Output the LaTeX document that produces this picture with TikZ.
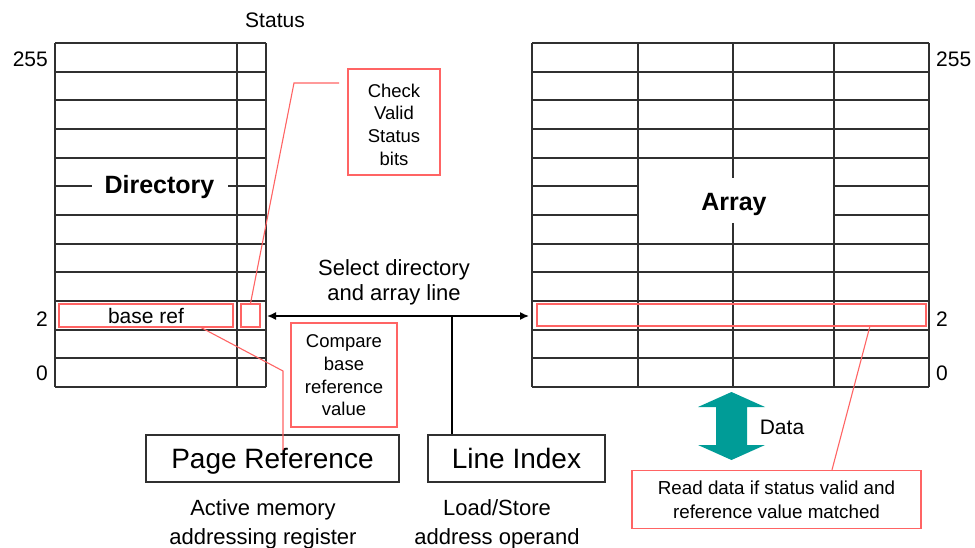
\documentclass[tikz,border=0pt]{standalone}
\usepackage{fontspec}
\setmainfont{Liberation Sans}
\usetikzlibrary{arrows.meta}
\definecolor{gridc}{HTML}{303030}
\definecolor{redc}{HTML}{FF6464}
\definecolor{tealc}{HTML}{009C97}
\tikzset{
  gridline/.style={draw=gridc, line width=1.8pt},
  redbox/.style={draw=redc, line width=1.3pt, inner sep=0pt, align=center},
  redline/.style={draw=redc, line width=1.1pt},
  blackbox/.style={draw=gridc, line width=1.6pt, inner sep=0pt, text height=20.2pt, text depth=0pt, font=\fontsize{28}{32}\selectfont},
  lbl/.style={inner sep=0pt, align=center, text=black},
  small/.style={lbl, font=\fontsize{21}{25}\selectfont},
  note/.style={lbl, font=\fontsize{18.5}{22.7}\selectfont},
  mid/.style={lbl, font=\fontsize{22}{29}\selectfont},
  bold/.style={lbl, font=\bfseries\fontsize{25}{30}\selectfont, text height=18pt, text depth=0pt},
  connector/.style={draw=black, line width=1.5pt}
}
\begin{document}
\begin{tikzpicture}[x=1pt,y=-1pt]
\useasboundingbox (0,0) rectangle (975,548);
% ---------- Directory grid ----------
\foreach \i in {0,1,2,3,4,6,7,8,9,10,11,12}{
  \draw[gridline] (55,43+\i*28.6667) -- (266,43+\i*28.6667);
}
\draw[gridline] (55,186.33) -- (266,186.33);
\draw[gridline] (55,43) -- (55,387);
\draw[gridline] (237,43) -- (237,387);
\draw[gridline] (266,43) -- (266,387);
\node[bold, fill=white, minimum width=136pt, minimum height=20pt] (dirlabel) at (159.5,185) {Directory};
% ---------- Array grid ----------
\foreach \i in {0,1,2,3,4,7,8,9,10,11,12}{
  \draw[gridline] (532,43+\i*28.6667) -- (929,43+\i*28.6667);
}
\foreach \i in {5,6}{
  \draw[gridline] (532,43+\i*28.6667) -- (638,43+\i*28.6667);
  \draw[gridline] (834,43+\i*28.6667) -- (929,43+\i*28.6667);
}
\foreach \x in {532,638,834,929}{
  \draw[gridline] (\x,43) -- (\x,387);
}
\draw[gridline] (733,43) -- (733,178);
\draw[gridline] (733,223) -- (733,387);
\node[bold] (arrlabel) at (734,202) {Array};
% ---------- labels ----------
\node[small] (status) at (275,20) {Status};
\node[small, anchor=east] (l255) at (48,59) {255};
\node[small] (l2) at (42,319) {2};
\node[small] (l0) at (42,373) {0};
\node[small, anchor=west] (r255) at (936,59) {255};
\node[small] (r2) at (942,319) {2};
\node[small] (r0) at (942,373) {0};
% ---------- red highlight boxes ----------
\node[redbox, minimum width=174pt, minimum height=23pt, font=\fontsize{21}{25}\selectfont] (baseref) at (146,315.5) {base ref};
\node[redbox, minimum width=19pt, minimum height=23pt] (stbox) at (250.5,315.5) {};
\node[redbox, minimum width=389pt, minimum height=22pt] (arrline) at (731.5,315) {};
% ---------- note boxes ----------
\node[redbox, minimum width=92pt, minimum height=106pt] (check) at (394,122) {};
\node[note] (checktxt) at (394,124.5) {Check\\Valid\\Status\\bits};
\node[redbox, minimum width=106pt, minimum height=104pt] (compare) at (344,375) {};
\node[note] (comparetxt) at (344,375.5) {Compare\\base\\reference\\value};
\node[redbox, font=\fontsize{18.8}{24}\selectfont, minimum width=289pt, minimum height=58pt] (readdata) at (776.5,499.5) {Read data if status valid and\\reference value matched};
% ---------- registers ----------
\node[blackbox, minimum width=253pt, minimum height=47pt] (pageref) at (272.5,458.5) {Page Reference};
\node[blackbox, minimum width=177pt, minimum height=47pt] (lineidx) at (516.5,458.5) {Line Index};
\node[mid] (activemem) at (263,524) {Active memory\\addressing register};
\node[mid] (loadstore) at (497,524) {Load/Store\\address operand};
% ---------- select arrow ----------
\node[lbl, font=\fontsize{22}{25}\selectfont] (select) at (394,282) {Select directory\\and array line};
\coordinate (dirE) at (267,316);
\coordinate (arrW) at (529,316);
\coordinate (tee) at (452,316);
\draw[connector, {Latex[length=9pt,width=8pt]}-{Latex[length=9pt,width=8pt]}] (dirE) -- (arrW);
\draw[connector] (tee) -- (tee |- lineidx.north);
% ---------- red leader lines ----------
\coordinate (chkbend) at (294,83);
\coordinate (chkend) at (339,83);
\draw[redline] (stbox.north) -- (chkbend) -- (chkend);
\coordinate (brstart) at (200,327);
\coordinate (brbend) at (283,371);
\coordinate (brend) at (283,450);
\draw[redline] (brstart) -- (brbend) -- (brend);
\coordinate (alstart) at (870,326);
\draw[redline] (alstart) -- (readdata.north -| 832,0);
% ---------- data arrow ----------
\fill[tealc] (731.5,392) -- (765,407) -- (747,407) -- (747,445) -- (765,445) -- (731.5,460)
  -- (698,445) -- (716,445) -- (716,407) -- (698,407) -- cycle;
\node[lbl, font=\fontsize{21}{25}\selectfont] (data) at (782,427) {Data};
\end{tikzpicture}
\end{document}
